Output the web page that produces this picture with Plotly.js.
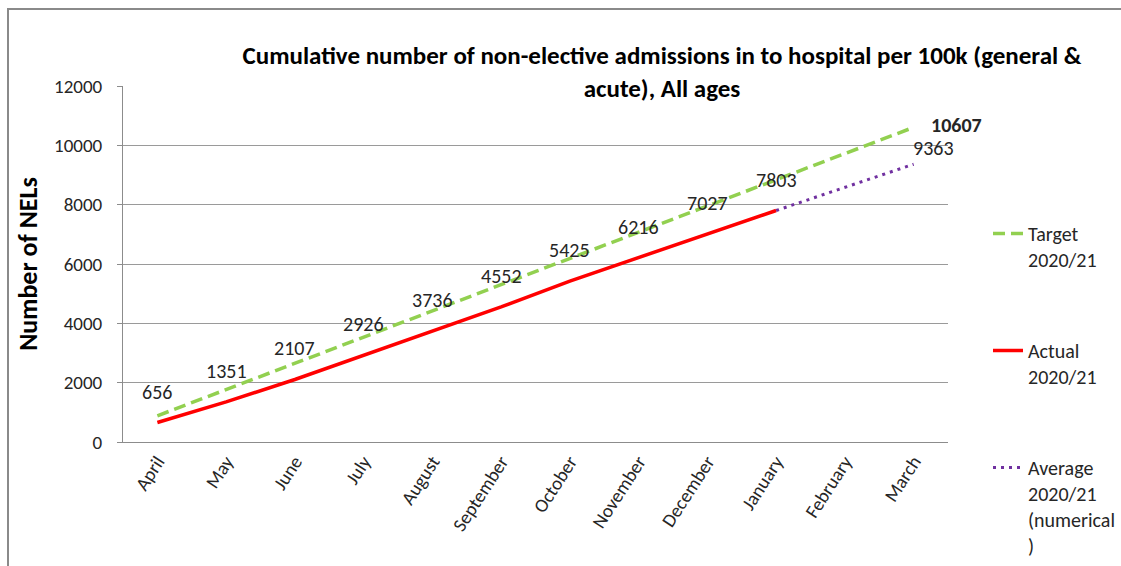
<!DOCTYPE html>
<html>
<head>
<meta charset="utf-8">
<script src="https://cdn.plot.ly/plotly-3.0.1.min.js"></script>
<style>
  html, body { margin: 0; padding: 0; background: #fff; overflow: hidden; }
  #frame { position: absolute; left: 7px; top: 8px; width: 1130px; height: 580px; border-left: 2px solid #8a8a8a; border-top: 2px solid #8a8a8a; pointer-events: none; z-index: 5; }
  #chart { position: absolute; left: 0; top: 0; width: 1121px; height: 566px; }
</style>
</head>
<body>
<div id="chart"></div>
<div id="frame"></div>
<script>
const months = ["April","May","June","July","August","September","October","November","December","January","February","March"];
const target = [884, 1768, 2652, 3536, 4420, 5304, 6187, 7071, 7955, 8839, 9723, 10607];
const actual = [656, 1351, 2107, 2926, 3736, 4552, 5425, 6216, 7027, 7803, null, null];
const average = [null, null, null, null, null, null, null, null, null, 7803, 8583, 9363];

const FAM = "Calibri, Carlito, 'Open Sans', sans-serif";
const labelFont = {family: FAM, size: 20, color: "#262626"};

const traces = [
  {x: months, y: target, name: "Target<br>2020/21", mode: "lines", legendgroup: "a",
   line: {color: "#92D050", width: 3.5, dash: "12px,6px"}},
  {x: months, y: actual, name: "Actual<br>2020/21", mode: "lines", legendgroup: "b",
   line: {color: "#FF0000", width: 3.5}},
  {x: months, y: average, name: "Average<br>2020/21<br>(numerical<br>)", mode: "lines", legendgroup: "c",
   line: {color: "#7030A0", width: 3, dash: "3px,5px"}}
];

const annotations = [];
actual.forEach((v, i) => {
  if (v !== null) {
    annotations.push({x: months[i], y: v, text: String(v), showarrow: false,
      yshift: 31, font: labelFont});
  }
});
annotations.push({x: months[11], y: average[11], text: String(average[11]), showarrow: false,
  xshift: 20, yshift: 16, font: labelFont});
annotations.push({x: months[11], y: target[11], text: "<b>" + target[11] + "</b>", showarrow: false,
  xshift: 43, yshift: 2, font: labelFont});

const layout = {
  width: 1121, height: 566,
  margin: {l: 123, r: 173, t: 86, b: 124},
  paper_bgcolor: "#fff", plot_bgcolor: "#fff",
  title: {
    text: "<b>Cumulative number of non-elective admissions in to hospital per 100k (general &amp;<br>acute), All ages</b>",
    xref: "container", x: 662/1121, xanchor: "center",
    yref: "container", y: 1 - 64/566, yanchor: "middle",
    font: {family: FAM, size: 25, color: "#000"}
  },
  xaxis: {
    type: "category", range: [-0.5, 11.5],
    showline: true, linecolor: "#8c8c8c", linewidth: 1,
    showgrid: false, ticks: "", tickangle: -57,
    tickfont: {family: FAM, size: 19, color: "#262626"}
  },
  yaxis: {
    range: [0, 12000], dtick: 2000, tickformat: "d",
    showline: true, linecolor: "#8c8c8c", linewidth: 1,
    showgrid: true, gridcolor: "#9a9a9a", gridwidth: 1,
    ticks: "outside", ticklen: 5, tickcolor: "#8c8c8c",
    ticklabelstandoff: 11,
    tickfont: {family: FAM, size: 19, color: "#262626"},
    title: {text: "<b>Number of NELs</b>", standoff: 8,
      font: {family: FAM, size: 26, color: "#000"}}
  },
  legend: {
    x: 988/1121, xref: "container", y: 1 - 214/566, yref: "container",
    xanchor: "left", yanchor: "top",
    valign: "top", tracegroupgap: 62, traceorder: "grouped",
    maxheight: 500,
    font: {family: FAM, size: 20, color: "#262626"},
    bgcolor: "rgba(0,0,0,0)", itemwidth: 30
  },
  showlegend: true,
  annotations: annotations
};

Plotly.newPlot("chart", traces, layout, {displayModeBar: false, staticPlot: true});
</script>
</body>
</html>
